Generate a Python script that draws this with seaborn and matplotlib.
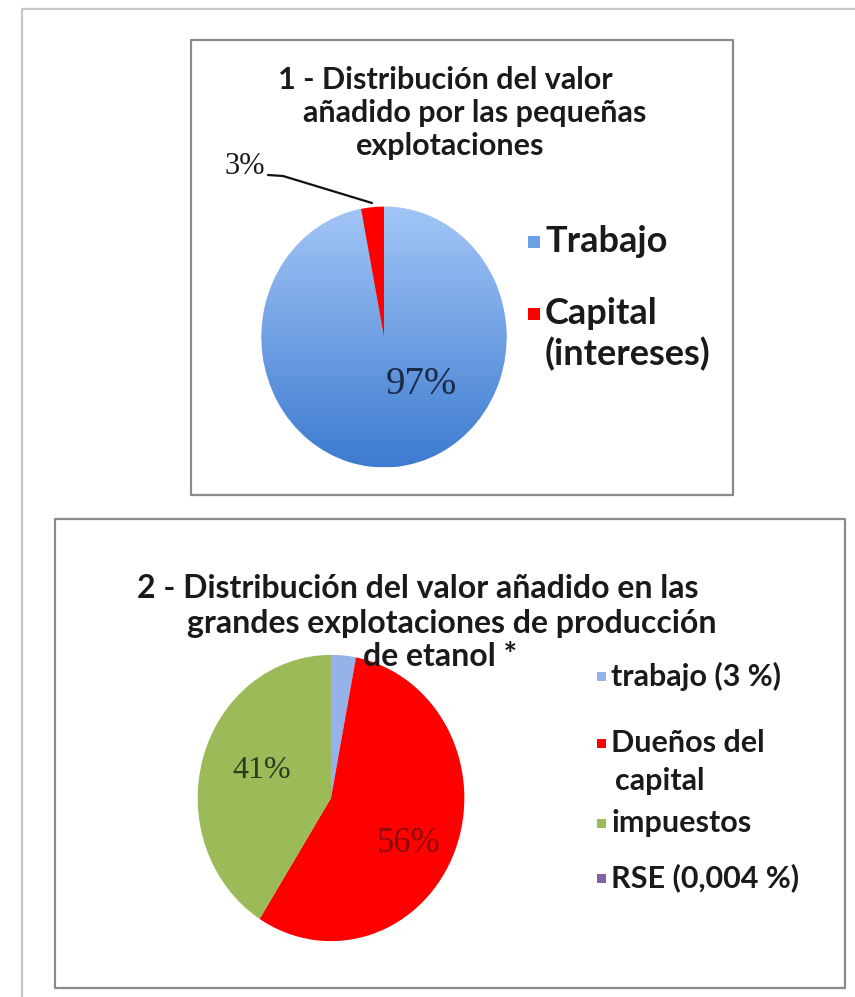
import numpy as np
import matplotlib
matplotlib.use("Agg")
import matplotlib.pyplot as plt
import seaborn as sns
from matplotlib.patches import Rectangle
from matplotlib.lines import Line2D
from matplotlib.colors import LinearSegmentedColormap

# ---------------- data ----------------
title1_lines = ["1 - Distribución del valor", "añadido por las pequeñas", "explotaciones"]
cats1 = ["Trabajo", "Capital\n(intereses)"]
vals1 = [97, 3]

title2_lines = ["2 - Distribución del valor añadido en las",
                "grandes explotaciones de producción", "de etanol *"]
cats2 = ["trabajo (3 %)", "Dueños del\ncapital", "impuestos", "RSE (0,004 %)"]
vals2 = [3, 56, 41, 0.004]

# ---------------- style ----------------
sns.set_theme(style="white")
plt.rcParams['font.family'] = ['Lato', 'DejaVu Sans']

W, H = 855, 997
fig = plt.figure(figsize=(W / 100, H / 100), dpi=100)
fig.patch.set_facecolor("white")


def fx(x):
    return x / W


def fy(y):
    return 1 - y / H


def frame(x0, y0, x1, y1, color, lw):
    xs = [fx(x0), fx(x1), fx(x1), fx(x0), fx(x0)]
    ys = [fy(y0), fy(y0), fy(y1), fy(y1), fy(y0)]
    fig.add_artist(Line2D(xs, ys, color=color, lw=lw, transform=fig.transFigure))


def ftext(x, y, s, **kw):
    fig.text(fx(x), fy(y), s, transform=fig.transFigure, **kw)


# outer frame (left and top only visible)
fig.add_artist(Line2D([fx(22), fx(22), fx(855)], [fy(997), fy(9), fy(9)],
                      color="#c8c8c8", lw=1.6, transform=fig.transFigure))
# panel frames
frame(191, 40, 733, 495, "#8a8a8a", 1.6)
frame(55, 519, 845, 988, "#8a8a8a", 1.6)


def pie_axes(cx, cy, rx, ry):
    return fig.add_axes([fx(cx - rx), fy(cy + ry), rx * 2 / W, ry * 2 / H])


SERIF = ["Liberation Serif", "DejaVu Serif"]

# ---------------- pie 1 ----------------
blue_top = "#a3c6f7"
blue_bot = "#3d7bd0"
red = "#ff0000"
ax1 = pie_axes(384, 337, 125, 133)
wedges1, _ = ax1.pie(vals1, colors=[blue_top, red], startangle=90, counterclock=False,
                     radius=1.0, wedgeprops=dict(linewidth=0))
grad_cmap = LinearSegmentedColormap.from_list("g", [blue_bot, blue_top])
grad = np.linspace(0, 1, 256).reshape(-1, 1)
im = ax1.imshow(grad, extent=(-1, 1, -1, 1), origin="lower", cmap=grad_cmap,
                aspect="auto", zorder=wedges1[0].get_zorder() + 0.1)
im.set_clip_path(wedges1[0])
wedges1[1].set_zorder(wedges1[0].get_zorder() + 0.2)
ax1.set_xlim(-1.02, 1.02)
ax1.set_ylim(-1.02, 1.02)
ax1.set_aspect("auto")
ax1.axis("off")

# title 1
t1_pos = [(445, 80), (475, 113), (450, 146)]
for (x, y), s in zip(t1_pos, title1_lines):
    ftext(x, y, s, ha="center", va="center", fontsize=22, fontweight="bold", color="#1a1a1a")

# pct labels pie 1
ftext(421, 384, f"{vals1[0]}%", ha="center", va="center", fontsize=28,
      family=SERIF, color="#1c2a4a")
ftext(245, 166, f"{vals1[1]}%", ha="center", va="center", fontsize=22,
      family=SERIF, color="#1a1a1a")
fig.add_artist(Line2D([fx(268), fx(283), fx(372)], [fy(175), fy(176), fy(203)],
                      color="#111111", lw=1.6, transform=fig.transFigure))

# legend 1
sq = 12
leg1_y = [242, 314]
leg1_cols = ["#6b9fe6", red]
for lab, y, c in zip(cats1, leg1_y, leg1_cols):
    fig.add_artist(Rectangle((fx(528), fy(y + sq / 2)), sq / W, sq / H,
                             facecolor=c, edgecolor="none", transform=fig.transFigure))
    for j, line in enumerate(lab.split("\n")):
        ftext(545, y + j * 40, line, ha="left", va="center", fontsize=26,
              fontweight="bold", color="#1a1a1a")

# ---------------- pie 2 ----------------
cols2 = ["#95b3e8", "#ff0000", "#9bbb59", "#8064a2"]
ax2 = pie_axes(331, 798, 136, 146)
wedges2, _ = ax2.pie(vals2, colors=cols2, startangle=90, counterclock=False,
                     wedgeprops=dict(linewidth=0))
ax2.set_xlim(-1.02, 1.02)
ax2.set_ylim(-1.02, 1.02)
ax2.set_aspect("auto")
ax2.axis("off")

t2_pos = [(418, 589), (452, 623), (440, 656)]
for (x, y), s in zip(t2_pos, title2_lines):
    ftext(x, y, s, ha="center", va="center", fontsize=23, fontweight="bold", color="#1a1a1a",
          zorder=5)

ftext(262, 771, f"{vals2[2]}%", ha="center", va="center", fontsize=23,
      family=SERIF, color="#2e3a1c")
ftext(409, 843, f"{vals2[1]}%", ha="center", va="center", fontsize=25,
      family=SERIF, color="#8b0a0a")

leg2_y = [676, 743, 823, 878]
sq2 = 9
for lab, y, c in zip(cats2, leg2_y, cols2):
    fig.add_artist(Rectangle((fx(597), fy(y + sq2 / 2)), sq2 / W, sq2 / H,
                             facecolor=c, edgecolor="none", transform=fig.transFigure))
    for j, line in enumerate(lab.split("\n")):
        ftext(611 + (4 if j else 0), y + j * 38, line, ha="left", va="center", fontsize=22,
              fontweight="bold", color="#1a1a1a")

fig.savefig("out.png", dpi=100, facecolor="white")
